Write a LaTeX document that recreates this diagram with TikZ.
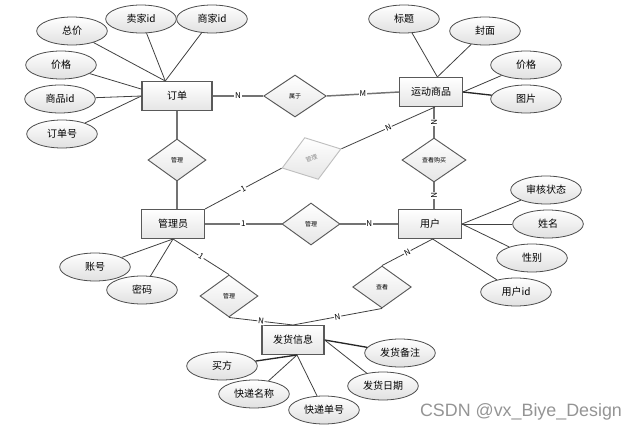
\documentclass[tikz,border=0pt]{standalone}
\usepackage{fontspec}
\setmainfont{Noto Sans CJK SC}
\newfontfamily\wmfont{Liberation Sans}
\usetikzlibrary{shapes.geometric,calc}
\tikzset{
 ent/.style={draw=black!65, line width=1pt, top color=white, bottom color=black!10, minimum width=47pt, minimum height=21.5pt, inner sep=0pt, font=\fontsize{7.5}{9}\selectfont},
 attr/.style={ellipse, draw=black!70, line width=0.6pt, top color=white, bottom color=black!12, minimum width=53pt, minimum height=21pt, inner sep=0pt, font=\fontsize{7.5}{9}\selectfont},
 rel/.style={diamond, draw=black!65, line width=0.7pt, top color=white, bottom color=black!10, minimum width=44pt, minimum height=31.5pt, inner sep=0pt, font=\fontsize{4.5}{5}\selectfont},
 al/.style={draw=black!75, line width=0.6pt},
 rl/.style={draw=black!55, line width=1.1pt},
 card/.style={fill=white, inner sep=0.6pt, font=\fontsize{6}{7}\selectfont},
}
\begin{document}
\begin{tikzpicture}[x=0.75pt,y=-0.75pt]
\useasboundingbox (0,0) rectangle (636,432);
% entities
\node[ent, minimum width=52.5pt] (dd) at (177,96) {订单};
\node[ent] (sp) at (431,92) {运动商品};
\node[ent] (gly) at (173,224) {管理员};
\node[ent] (yh) at (430,224) {用户};
\node[ent, minimum width=46.5pt] (fh) at (293,340) {发货信息};
% relationships
\node[rel, minimum width=47pt] (sy) at (295,96) {属于};
\node[rel, draw=black!25, text=black!45, minimum width=46.5pt, minimum height=33pt, rotate=18] (gm) at (311.5,158.5) {管理};
\node[rel, minimum width=43.5pt] (g1) at (177,160) {管理};
\node[rel, minimum width=48pt, minimum height=33pt] (ck) at (434,160) {查看购买};
\node[rel, minimum width=43.5pt] (g2) at (311,224) {管理};
\node[rel, minimum width=43.5pt] (g3) at (229,296) {管理};
\node[rel, minimum width=44pt] (ck2) at (382,287) {查看};
% attributes
\node[attr] (a1) at (72,31) {总价};
\node[attr] (a2) at (141,19) {卖家id};
\node[attr] (a3) at (212,19) {商家id};
\node[attr] (a4) at (61,65) {价格};
\node[attr] (a5) at (60,99) {商品id};
\node[attr] (a6) at (62,134) {订单号};
\node[attr] (b1) at (404,19) {标题};
\node[attr] (b2) at (485,31) {封面};
\node[attr] (b3) at (526,65) {价格};
\node[attr] (b4) at (526,99) {图片};
\node[attr] (c1) at (546,190) {审核状态};
\node[attr] (c2) at (548,224) {姓名};
\node[attr] (c3) at (532,258) {性别};
\node[attr] (c4) at (516,292) {用户id};
\node[attr] (d1) at (95,267) {账号};
\node[attr] (d2) at (142,290) {密码};
\node[attr] (e1) at (400,353) {发货备注};
\node[attr] (e2) at (383,386) {发货日期};
\node[attr] (e3) at (222,366) {买方};
\node[attr] (e4) at (254,394) {快递名称};
\node[attr] (e5) at (324,410) {快递单号};
% attribute lines
\draw[al] (a1) -- (dd.128);
\draw[al] (a2) -- (dd.128);
\draw[al] (a3) -- (dd.128);
\draw[al] (a4) -- (dd.169);
\draw[al] (a5) -- (dd.west);
\draw[al] (a6) -- (dd.west);
\draw[al] (b1) -- (sp.67);
\draw[al] (b2) -- (sp.67);
\draw[al] (b3) -- (sp.east);
\draw[al, line width=1pt, black!85] (b4) -- (sp.east);
\draw[al] (c1) -- (yh.east);
\draw[al] (c2) -- (yh.east);
\draw[al] (c3) -- (yh.east);
\draw[al] (c4) -- (yh.-80);
\draw[al] (d1) -- (gly.south);
\draw[al] (d2) -- (gly.south);
\draw[al, line width=1pt, black!85] (e1) -- (fh.east);
\draw[al] (e2) -- (fh.east);
\draw[al, line width=1pt, black!85] (e3) -- (fh.-75);
\draw[al] (e4) -- (fh.-75);
\draw[al] (e5) -- (fh.-75);
% relationship lines
\draw[rl] (dd.east) -- node[card]{N} (sy.west);
\draw[rl] (sy.east) -- node[card]{M} (sp.west);
\draw[rl] (ck.north |- sp.south) -- node[card, sloped]{N} (ck.north);
\draw[rl] (ck.south) -- node[card, sloped]{N} (ck.south |- yh.north);
\draw[al] (gm.east) -- node[card, sloped]{N} (sp.-75);
\draw[al] (gm.west) -- node[card, sloped]{1} (gly.north east);
\draw[rl] (g1.north |- dd.south) -- (g1.north);
\draw[rl] (g1.south) -- (g1.south |- gly.north);
\draw[rl] (gly.east) -- node[card]{1} (g2.west);
\draw[rl] (g2.east) -- node[card]{N} (yh.west);
\draw[al] (gly.south) -- node[card, sloped]{1} (g3.north);
\draw[al] (yh.-80) -- node[card, sloped]{N} (ck2.north);
\draw[al] (g3.south) -- node[card, sloped]{N} (fh.north);
\draw[al] (ck2.south) -- node[card, sloped]{N} (fh.north);
% watermark
\node[font=\wmfont\fontsize{13.4}{15}\selectfont, text=black!42] (wm) at (521,412) {CSDN @vx\_Biye\_Design};
\end{tikzpicture}
\end{document}
